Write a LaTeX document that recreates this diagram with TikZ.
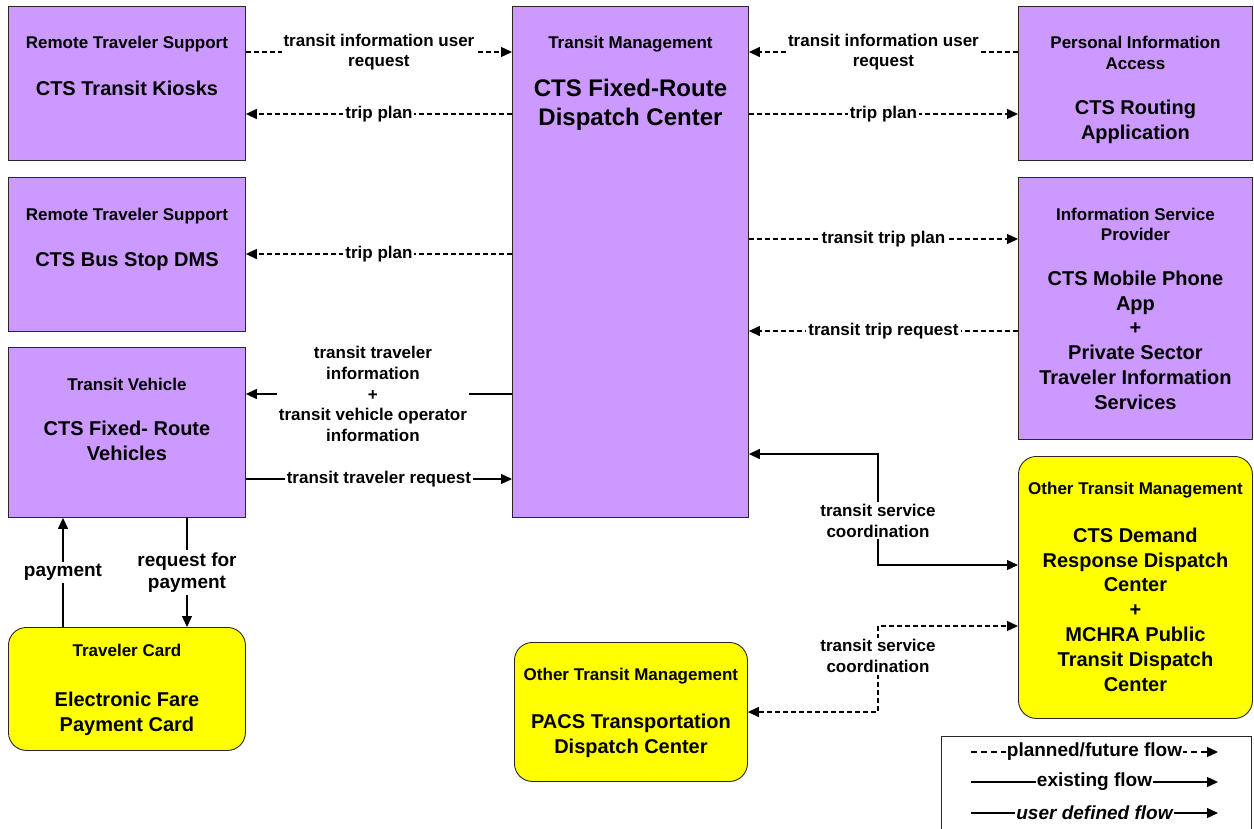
\documentclass[tikz,border=0pt]{standalone}
\usepackage{fontspec}
\setmainfont{Liberation Sans}
\usetikzlibrary{arrows.meta,positioning}
\definecolor{sysfill}{RGB}{204,153,255}
\definecolor{otherfill}{RGB}{255,255,0}
\definecolor{boxline}{RGB}{40,40,40}

\tikzset{
  >={Triangle[length=11pt,width=10pt]},
  sysbox/.style={draw=boxline,fill=sysfill,line width=0.9pt,anchor=north west,inner sep=0pt},
  otherbox/.style={draw=boxline,fill=otherfill,line width=0.9pt,rounded corners=18pt,anchor=north west,inner sep=0pt},
  boxtitle/.style={font=\fontsize{17}{20.5}\selectfont\bfseries,align=center,inner sep=0pt},
  boxname/.style={font=\fontsize{20}{24.8}\selectfont\bfseries,align=center,inner sep=0pt},
  flowlbl/.style={font=\fontsize{17}{20.7}\selectfont\bfseries,align=center,fill=white,inner sep=2pt},
  biglbl/.style={flowlbl,font=\fontsize{19}{22.5}\selectfont\bfseries},
  existing/.style={line width=1.3pt},
  planned/.style={line width=1.3pt,dash pattern=on 5pt off 3pt},
}

\begin{document}
\begin{tikzpicture}[x=1pt,y=-1pt]
  \useasboundingbox[fill=white] (0,0) rectangle (1254,828);

  % left column
  \node[sysbox,minimum width=237pt,minimum height=154pt] (kiosk) at (8,6) {};
  \node[boxtitle,below=30pt of kiosk.north] (kioskT) {Remote Traveler Support};
  \node[boxname,below=74.6pt of kiosk.north] (kioskN) {CTS Transit Kiosks};

  \node[sysbox,minimum width=237pt,minimum height=154pt] (dms) at (8,177) {};
  \node[boxtitle,below=30.7pt of dms.north] (dmsT) {Remote Traveler Support};
  \node[boxname,below=75.6pt of dms.north] (dmsN) {CTS Bus Stop DMS};

  \node[sysbox,minimum width=237pt,minimum height=170pt] (veh) at (8,347) {};
  \node[boxtitle,below=30.7pt of veh.north] (vehT) {Transit Vehicle};
  \node[boxname,below=73.6pt of veh.north] (vehN) {CTS Fixed- Route\\Vehicles};

  \node[otherbox,minimum width=237pt,minimum height=123pt] (card) at (8,627) {};
  \node[boxtitle,below=16.7pt of card.north] (cardT) {Traveler Card};
  \node[boxname,below=64.6pt of card.north] (cardN) {Electronic Fare\\Payment Card};

  % centre
  \node[sysbox,minimum width=236pt,minimum height=511pt] (disp) at (512,6) {};
  \node[boxtitle,below=30pt of disp.north] (dispT) {Transit Management};
  \node[boxname,font=\fontsize{24}{28.5}\selectfont\bfseries,below=73pt of disp.north] (dispN) {CTS Fixed-Route\\Dispatch Center};

  \node[otherbox,minimum width=233pt,minimum height=139pt] (pacs) at (514,642) {};
  \node[boxtitle,below=25.7pt of pacs.north] (pacsT) {Other Transit Management};
  \node[boxname,below=71.6pt of pacs.north] (pacsN) {PACS Transportation\\Dispatch Center};

  % right column
  \node[sysbox,minimum width=234pt,minimum height=154pt] (route) at (1018,6) {};
  \node[boxtitle,below=30pt of route.north] (routeT) {Personal Information\\Access};
  \node[boxname,below=93.6pt of route.north] (routeN) {CTS Routing\\Application};

  \node[sysbox,minimum width=234pt,minimum height=262pt] (mobile) at (1018,177) {};
  \node[boxtitle,below=30.7pt of mobile.north] (mobileT) {Information Service\\Provider};
  \node[boxname,below=93.6pt of mobile.north] (mobileN) {CTS Mobile Phone\\App\\+\\Private Sector\\Traveler Information\\Services};

  \node[otherbox,minimum width=234pt,minimum height=262pt] (demand) at (1018,456) {};
  \node[boxtitle,below=25.7pt of demand.north] (demandT) {Other Transit Management};
  \node[boxname,below=71.6pt of demand.north] (demandN) {CTS Demand\\Response Dispatch\\Center\\+\\MCHRA Public\\Transit Dispatch\\Center};

  % flows, left side
  \draw[planned,->] (kiosk.east |- 0,52) -- node[flowlbl] {transit information user\\request} (disp.west |- 0,52);
  \draw[planned,->] (disp.west |- 0,114) -- node[flowlbl] {trip plan} (kiosk.east |- 0,114);
  \draw[planned,->] (disp.west |- 0,254) -- node[flowlbl] {trip plan} (dms.east |- 0,254);
  \draw[existing,->] (disp.west |- 0,394) -- node[flowlbl,xshift=-6pt] {transit traveler\\information\\+\\transit vehicle operator\\information} (veh.east |- 0,394);
  \draw[existing,->] (veh.east |- 0,479) -- node[flowlbl] {transit traveler request} (disp.west |- 0,479);
  \draw[existing,->] (veh.south -| 187,0) -- node[biglbl] {request for\\payment} (card.north -| 187,0);
  \draw[existing,->] (card.north -| 63,0) -- node[biglbl] {payment} (veh.south -| 63,0);

  % flows, right side
  \draw[planned,->] (route.west |- 0,52) -- node[flowlbl] {transit information user\\request} (disp.east |- 0,52);
  \draw[planned,->] (disp.east |- 0,114) -- node[flowlbl] {trip plan} (route.west |- 0,114);
  \draw[planned,->] (disp.east |- 0,239) -- node[flowlbl] {transit trip plan} (mobile.west |- 0,239);
  \draw[planned,->] (mobile.west |- 0,331) -- node[flowlbl] {transit trip request} (disp.east |- 0,331);
  \draw[existing,<->] (disp.east |- 0,454) -- (878,454) -- node[flowlbl,pos=0.6] {transit service\\coordination} (878,565) -- (demand.west |- 0,565);
  \draw[planned,<->] (pacs.east |- 0,712) -- (878,712) -- node[flowlbl,pos=0.65] {transit service\\coordination} (878,626) -- (demand.west |- 0,626);

  % legend
  \draw[line width=0.9pt,draw=boxline] (941,840) -- (941,736) -- (1251,736) -- (1251,840);
  \coordinate (lgA1) at (971,752);
  \coordinate (lgB1) at (1218,752);
  \coordinate (lgA2) at (971,782);
  \coordinate (lgB2) at (1218,782);
  \coordinate (lgA3) at (971,813);
  \coordinate (lgB3) at (1218,813);
  \draw[planned,dash pattern=on 6pt off 4pt,->] (lgA1) -- node[biglbl,inner sep=1pt] {planned/future flow} (lgB1);
  \draw[existing,->] (lgA2) -- node[biglbl,inner sep=1pt] {existing flow} (lgB2);
  \draw[existing,->] (lgA3) -- node[biglbl,inner sep=1pt,font=\fontsize{19}{22.5}\selectfont\bfseries\itshape] {user defined flow} (lgB3);
\end{tikzpicture}
\end{document}
